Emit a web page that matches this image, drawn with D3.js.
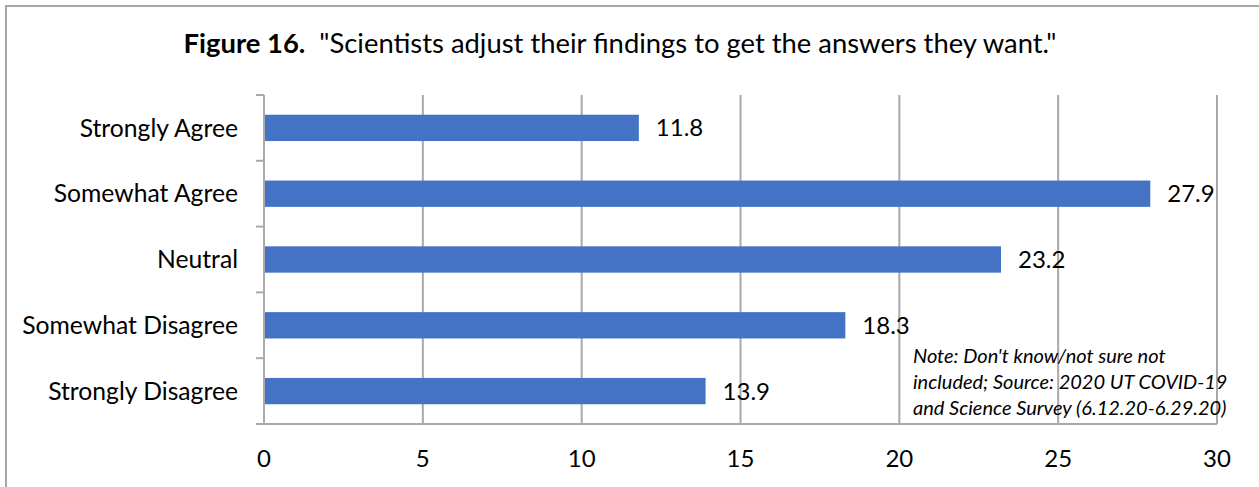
<!DOCTYPE html>
<html>
<head>
<meta charset="utf-8">
<script src="https://cdn.jsdelivr.net/npm/d3@7"></script>
<style>
  html, body { margin: 0; padding: 0; background: #fff; }
  svg { display: block; }
  text { font-family: Lato, "Open Sans", sans-serif; fill: #000; }
</style>
</head>
<body>
<svg id="chart" width="1259" height="487"></svg>
<script>
// Survey responses (percent)
const categories = ["Strongly Agree", "Somewhat Agree", "Neutral", "Somewhat Disagree", "Strongly Disagree"];
const values = [11.8, 27.9, 23.2, 18.3, 13.9];
const xTicks = [0, 5, 10, 15, 20, 25, 30];
const titleBold = "Figure 16.";
const titleText = "\"Scientists adjust their findings to get the answers they want.\"";
const noteLines = [
  "Note: Don't know/not sure not",
  "included; Source: 2020 UT COVID-19",
  "and Science Survey (6.12.20-6.29.20)"
];

const svg = d3.select("#chart");
const gridColor = "#a9a9a9";
const barColor = "#4472C4";

// Outer chart frame
svg.append("rect")
  .attr("x", 6).attr("y", 6)
  .attr("width", 1259).attr("height", 500)
  .attr("fill", "none").attr("stroke", "#a6a6a6").attr("stroke-width", 2);

const x = d3.scaleLinear().domain([0, 30]).range([264, 1217]);
const y = d3.scaleBand().domain(categories).range([95, 424])
  .paddingInner(0.6).paddingOuter(0.3);

// Vertical gridlines
svg.append("g").selectAll("line")
  .data(xTicks.slice(1))
  .join("line")
  .attr("x1", d => x(d)).attr("x2", d => x(d))
  .attr("y1", 95).attr("y2", 424)
  .attr("stroke", gridColor).attr("stroke-width", 2);

// Bars
svg.append("g").selectAll("rect")
  .data(values)
  .join("rect")
  .attr("x", x(0))
  .attr("y", (d, i) => y(categories[i]))
  .attr("width", d => x(d) - x(0))
  .attr("height", y.bandwidth())
  .attr("fill", barColor);

// Category axis line and boundary ticks
const step = y.step();
const bounds = categories.map(c => y(c) - step * y.paddingInner() / 2);
bounds.push(424);
svg.append("line")
  .attr("x1", x(0)).attr("x2", x(0))
  .attr("y1", 95).attr("y2", 424)
  .attr("stroke", gridColor).attr("stroke-width", 2);
svg.append("g").selectAll("line")
  .data(bounds)
  .join("line")
  .attr("x1", x(0) - 8).attr("x2", x(0))
  .attr("y1", d => d).attr("y2", d => d)
  .attr("stroke", gridColor).attr("stroke-width", 2);

// Value axis line
svg.append("line")
  .attr("x1", x(0) - 8).attr("x2", x(30))
  .attr("y1", 424).attr("y2", 424)
  .attr("stroke", gridColor).attr("stroke-width", 2);

// Category labels
svg.append("g").selectAll("text")
  .data(categories)
  .join("text")
  .attr("x", 238)
  .attr("y", d => y(d) + y.bandwidth() / 2)
  .attr("dy", "0.35em")
  .attr("text-anchor", "end")
  .attr("font-size", 24.7)
  .text(d => d);

// Value-axis tick labels
svg.append("g").selectAll("text")
  .data(xTicks)
  .join("text")
  .attr("x", d => x(d))
  .attr("y", 467)
  .attr("text-anchor", "middle")
  .attr("font-size", 24)
  .text(d => d);

// Data labels
svg.append("g").selectAll("text")
  .data(values)
  .join("text")
  .attr("x", d => x(d) + 17)
  .attr("y", (d, i) => y(categories[i]) + y.bandwidth() / 2)
  .attr("dy", "0.35em")
  .attr("font-size", 24)
  .text(d => d.toFixed(1));

// Title
const title = svg.append("text")
  .attr("x", 620).attr("y", 53)
  .attr("text-anchor", "middle")
  .attr("font-size", 27.4)
  .attr("xml:space", "preserve");
title.append("tspan").attr("font-weight", "bold").text(titleBold);
title.append("tspan").text("  " + titleText);

// Footnote
svg.append("g").selectAll("text")
  .data(noteLines)
  .join("text")
  .attr("x", 913)
  .attr("y", (d, i) => 363 + i * 26)
  .attr("font-size", 20)
  .attr("font-style", "italic")
  .text(d => d);
</script>
</body>
</html>
